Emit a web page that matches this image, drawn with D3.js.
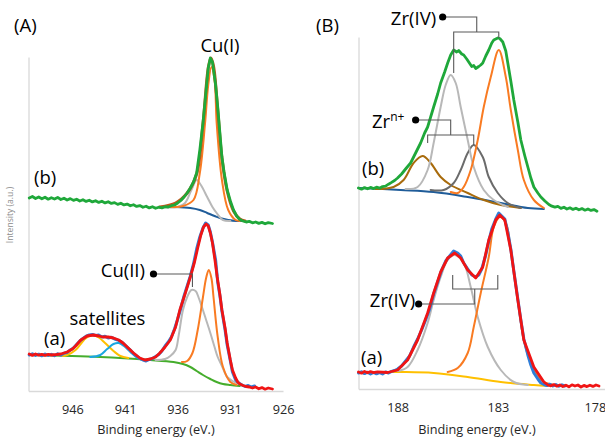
<!DOCTYPE html>
<html><head><meta charset="utf-8">
<script src="https://cdn.jsdelivr.net/npm/d3@7"></script>
<style>body{margin:0;background:#fff}svg{display:block}text{font-family:"Open Sans",sans-serif}</style>
</head><body>
<script>
// ---------- DATA (binding energy eV, intensity a.u.) ----------
const cuTicks = [946, 941, 936, 931, 926];
const zrTicks = [188, 183, 178];

// Cu 2p, spectrum (b)
const cuB_exp = [[950.1,1930],[949.8,1945],[949.5,1925],[949.2,1940],[948.9,1922],[948.6,1938],[948.3,1918],[948.0,1933],[947.7,1920],[947.4,1936],[947.1,1915],[946.8,1928],[946.5,1910],[946.2,1924],[945.9,1906],[945.6,1918],[945.3,1900],[945.0,1913],[944.7,1896],[944.4,1908],[944.1,1891],[943.8,1903],[943.5,1886],[943.2,1898],[942.9,1881],[942.6,1893],[942.3,1876],[942.0,1884],[941.7,1866],[941.4,1878],[941.1,1861],[940.8,1869],[940.5,1852],[940.2,1863],[939.9,1846],[939.6,1854],[939.3,1837],[939.0,1848],[938.7,1831],[938.4,1843],[938.1,1827],[937.8,1838],[937.5,1831],[937.2,1843],[936.9,1840],[936.6,1853],[936.3,1860],[936.0,1880],[935.7,1905],[935.4,1940],[935.1,1980],[934.8,2030],[934.5,2090],[934.2,2180],[933.9,2410],[933.6,2680],[933.3,3010],[933.1,3230],[932.9,3330],[932.7,3290],[932.4,3060],[932.2,2840],[932.0,2590],[931.8,2340],[931.6,2190],[931.3,2010],[931.0,1900],[930.7,1810],[930.4,1750],[930.1,1715],[929.8,1700],[929.5,1690],[929.2,1696],[928.9,1682],[928.6,1690],[928.3,1676],[928.0,1686],[927.7,1672],[927.4,1684],[927.0,1675]];
const cuB_fit = [[937.7,1840],[936.2,1880],[935.1,1980],[934.2,2170],[933.6,2670],[933.1,3230],[932.85,3330],[932.6,3250],[932.2,2810],[931.8,2330],[931.3,2000],[930.7,1800],[930.1,1720],[929.6,1700]];
const cuB_cu1 = [[936.7,1840],[935.5,1850],[934.5,1910],[933.9,2180],[933.4,2680],[933.1,3060],[932.8,3240],[932.5,3110],[932.3,2680],[931.8,2110],[931.2,1810],[930.5,1710],[930.1,1700]];
const cuB_cu2 = [[937.7,1840],[936.0,1840],[935.3,1880],[934.7,2010],[934.2,2110],[933.8,2060],[933.2,1940],[932.7,1840],[932.3,1780],[931.7,1710],[931.0,1700]];
const cuB_bg  = [[937.7,1840],[936.2,1840],[934.8,1830],[933.9,1810],[933.2,1780],[932.5,1750],[932.0,1730],[931.2,1710],[930.4,1700],[929.9,1700]];

// Cu 2p, spectrum (a)
const cuA_exp = [[950.1,360],[949.8,372],[949.5,356],[949.2,368],[948.9,352],[948.6,370],[948.3,356],[948.0,367],[947.7,353],[947.4,372],[947.1,358],[946.8,378],[946.5,385],[946.2,410],[945.9,430],[945.6,465],[945.3,500],[945.0,525],[944.7,548],[944.4,560],[944.1,565],[943.8,555],[943.5,560],[943.2,540],[942.9,548],[942.6,530],[942.3,538],[942.0,520],[941.7,510],[941.4,495],[941.1,470],[940.8,440],[940.5,410],[940.2,375],[939.9,350],[939.6,325],[939.3,310],[939.0,300],[938.7,315],[938.4,325],[938.1,345],[937.8,365],[937.5,400],[937.2,450],[936.9,490],[936.6,540],[936.3,620],[936.0,720],[935.7,830],[935.4,950],[935.1,1050],[934.8,1150],[934.5,1270],[934.2,1420],[933.9,1540],[933.6,1630],[933.35,1680],[933.1,1660],[932.9,1590],[932.7,1490],[932.4,1310],[932.2,1090],[932.0,960],[931.8,800],[931.5,610],[931.3,460],[931.0,300],[930.8,190],[930.5,110],[930.2,80],[929.9,60],[929.6,45],[929.3,55],[929.0,40],[928.7,50]];
const cuA_fit = [[950.1,370],[949.8,356],[949.5,370],[949.2,358],[948.9,367],[948.6,357],[948.3,366],[948.0,360],[947.5,365],[947.1,370],[946.5,390],[946.0,420],[945.7,450],[945.2,510],[944.6,550],[944.0,560],[943.5,550],[943.1,540],[942.6,540],[942.1,530],[941.6,510],[941.2,480],[940.7,430],[940.2,380],[939.6,330],[939.1,310],[938.6,320],[938.1,340],[937.7,380],[937.2,440],[936.7,510],[936.2,640],[935.8,810],[935.3,970],[934.8,1140],[934.4,1290],[934.1,1430],[933.8,1560],[933.55,1640],[933.3,1670],[933.1,1650],[932.9,1580],[932.7,1480],[932.45,1300],[932.25,1140],[932.0,970],[931.8,810],[931.5,630],[931.3,480],[931.0,310],[930.8,210],[930.5,130],[930.3,90],[930.1,70],[929.8,55],[929.5,45],[929.2,40],[928.9,30],[928.6,40],[928.3,22],[928.0,34],[927.7,18],[927.4,30],[927.0,20]];
const cuA_cu2 = [[938.1,310],[937.2,320],[936.7,350],[936.2,410],[935.9,560],[935.5,810],[935.1,940],[934.7,1010],[934.3,1000],[934.0,930],[933.7,840],[933.3,710],[932.9,580],[932.5,440],[932.2,340],[931.8,250],[931.3,140],[930.8,100],[930.4,80],[929.8,60]];
const cuA_cu1 = [[935.6,290],[935.1,300],[934.6,380],[934.1,610],[933.6,940],[933.3,1130],[933.05,1210],[932.8,1130],[932.6,940],[932.2,540],[931.7,240],[931.0,90],[930.4,60]];
const cuA_sat1 = [[947.1,350],[946.5,360],[945.7,410],[944.9,510],[944.5,545],[944.0,555],[943.5,535],[942.9,480],[942.1,400],[941.45,350],[940.7,330]];
const cuA_sat2 = [[944.3,340],[943.35,360],[942.7,420],[942.1,470],[941.6,480],[941.1,450],[940.5,390],[939.8,330],[939.1,310]];
const cuA_bg  = [[950.1,360],[943.35,340],[938.6,310],[936.4,290],[935.5,270],[934.8,240],[934.2,200],[933.6,160],[932.9,120],[932.3,90],[931.7,70],[931.0,60],[930.1,50]];

// Zr 3d, spectrum (b)
const zrB_exp = [[189.95,2010],[189.8,1998],[189.65,2014],[189.5,2002],[189.35,2016],[189.2,2004],[189.05,2018],[188.9,2008],[188.75,2024],[188.6,2028],[188.45,2048],[188.3,2066],[188.15,2085],[188.0,2110],[187.8,2150],[187.6,2200],[187.35,2260],[187.1,2360],[186.85,2460],[186.65,2560],[186.5,2620],[186.35,2720],[186.2,2820],[186.0,2950],[185.85,3060],[185.65,3170],[185.5,3260],[185.35,3340],[185.2,3390],[185.05,3370],[184.95,3385],[184.8,3350],[184.7,3340],[184.55,3300],[184.45,3270],[184.3,3225],[184.2,3235],[184.1,3205],[183.95,3225],[183.85,3240],[183.75,3260],[183.6,3330],[183.45,3390],[183.3,3460],[183.2,3490],[183.1,3500],[183.0,3510],[182.9,3505],[182.75,3470],[182.6,3380],[182.5,3260],[182.35,3080],[182.2,2890],[182.0,2670],[181.85,2490],[181.65,2330],[181.5,2220],[181.35,2110],[181.2,2020],[181.0,1960],[180.85,1920],[180.65,1880],[180.45,1845],[180.3,1828],[180.15,1818],[180.0,1826],[179.85,1806],[179.7,1818],[179.55,1800],[179.4,1812],[179.25,1796],[179.1,1808],[178.95,1792],[178.8,1804],[178.65,1788],[178.5,1800],[178.35,1786],[178.2,1794],[178.05,1778]];
const zrB_iv1 = [[187.6,2000],[187.0,2020],[186.5,2190],[186.2,2460],[185.85,2820],[185.6,3040],[185.35,3140],[185.1,3060],[184.85,2820],[184.5,2490],[184.2,2220],[183.7,1990],[183.2,1890],[182.5,1820]];
const zrB_iv2 = [[185.35,1970],[185.0,1960],[184.7,2020],[184.35,2190],[184.0,2490],[183.7,2820],[183.35,3120],[182.95,3390],[182.6,3120],[182.35,2790],[182.0,2390],[181.7,2090],[181.2,1890],[180.7,1810]];
const zrB_n1  = [[189.1,2000],[188.2,2020],[187.7,2090],[187.2,2260],[186.75,2330],[186.35,2260],[185.85,2120],[185.35,2040],[184.5,1960],[183.7,1890],[182.85,1840],[181.85,1810]];
const zrB_n2  = [[186.35,1990],[185.7,1990],[185.2,2060],[184.85,2190],[184.5,2360],[184.2,2440],[183.75,2320],[183.45,2120],[183.0,1960],[182.5,1860],[181.85,1810]];
const zrB_bg  = [[189.95,2010],[187.85,1990],[186.2,1970],[184.5,1920],[182.85,1860],[181.5,1810],[180.7,1800]];

// Zr 3d, spectrum (a)
const zrA_exp = [[189.95,160],[189.8,172],[189.65,154],[189.5,168],[189.35,150],[189.2,166],[189.05,152],[188.9,164],[188.75,150],[188.6,170],[188.45,160],[188.3,176],[188.15,185],[188.0,200],[187.8,230],[187.6,280],[187.4,330],[187.2,420],[187.0,500],[186.8,590],[186.6,690],[186.4,800],[186.2,950],[186.0,1070],[185.8,1190],[185.6,1280],[185.4,1330],[185.2,1380],[185.0,1360],[184.85,1330],[184.7,1260],[184.5,1200],[184.3,1140],[184.1,1120],[183.95,1140],[183.8,1200],[183.6,1340],[183.45,1480],[183.3,1600],[183.1,1700],[182.95,1760],[182.8,1730],[182.65,1700],[182.5,1570],[182.35,1400],[182.2,1180],[182.0,900],[181.85,690],[181.7,500],[181.5,340],[181.35,240],[181.2,160],[181.0,100],[180.85,60],[180.7,45],[180.55,34],[180.4,48],[180.25,30],[180.1,44],[179.95,28],[179.8,42],[179.65,30]];
const zrA_fit = [[189.95,170],[189.8,158],[189.65,176],[189.5,162],[189.35,174],[189.2,164],[189.0,172],[188.5,165],[188.0,190],[187.5,290],[187.0,490],[186.5,760],[186.2,960],[185.85,1170],[185.5,1310],[185.15,1360],[184.85,1310],[184.5,1190],[184.1,1110],[183.75,1220],[183.45,1490],[183.1,1690],[182.9,1740],[182.65,1690],[182.35,1390],[182.0,890],[181.7,490],[181.2,220],[180.7,70],[180.5,40],[180.35,32],[180.2,44],[180.05,28],[179.9,40],[179.75,24],[179.6,38],[179.45,22],[179.3,42],[179.15,30],[179.0,40],[178.85,20],[178.7,36],[178.55,24],[178.4,38],[178.25,26],[178.1,40],[177.95,30]];
const zrA_iv1 = [[188.0,180],[187.5,220],[187.0,390],[186.5,660],[186.2,890],[185.85,1120],[185.5,1290],[185.15,1340],[184.7,1260],[184.35,1020],[184.0,720],[183.5,420],[182.85,190],[182.2,70],[181.5,40]];
const zrA_iv2 = [[185.5,170],[185.0,210],[184.5,360],[184.2,620],[183.85,960],[183.45,1320],[183.2,1620],[182.9,1720],[182.6,1660],[182.35,1390],[182.0,890],[181.7,490],[181.35,260],[180.85,90],[180.2,40]];
const zrA_bg  = [[189.95,170],[187.85,170],[186.2,160],[184.5,120],[182.85,70],[181.2,40],[180.5,30]];

// annotation anchors [eV, intensity]
const cuIIPointer = [[938.3,1170],[934.6,1170],[934.6,1040]];
const zrTopPointer = [[185.75,3720],[184.05,3720],[184.05,3570]];
const zrTopBracket = [[185.2,3160],[185.2,3570],[182.95,3570],[182.95,3510]];
const zrNPointer = [[187.1,2690],[185.35,2690],[185.35,2540]];
const zrNBracket = [[186.5,2460],[186.5,2540],[184.2,2540],[184.2,2440]];
const zrBotPointer = [[186.95,850],[184.15,850],[184.15,1000]];
const zrBotBracket = [[185.25,1140],[185.25,1000],[183.0,1000],[183.0,1140]];

// ---------- CHART ----------
const W = 605, H = 437;
const svg = d3.select("body").append("svg").attr("width", W).attr("height", H);

const xL = d3.scaleLinear().domain([950.17, 926]).range([28.5, 283]);
const yL = d3.scaleLinear().domain([0, 3340]).range([391, 57]);
const xR = d3.scaleLinear().domain([189.95, 177.6]).range([358.5, 606]);
const yR = d3.scaleLinear().domain([0, 3520]).range([389, 37]);

function drawAxes(x, y, ticks, yBottom, yTop) {
  const gx = svg.append("g").attr("transform", `translate(0,${yBottom})`)
    .call(d3.axisBottom(x).tickValues(ticks).tickSize(0).tickPadding(14).tickFormat(d3.format("d")));
  gx.select(".domain").attr("stroke", "#d9d9d9").attr("stroke-width", 1.3);
  gx.selectAll("text").attr("font-size", 12.7).attr("fill", "#262626").style("font-family", '"Open Sans",sans-serif');
  const gy = svg.append("g").attr("transform", `translate(${x.range()[0]},0)`)
    .call(d3.axisLeft(d3.scaleLinear().range([yBottom, yTop])).tickValues([]).tickSizeOuter(0));
  gy.select(".domain").attr("stroke", "#d9d9d9").attr("stroke-width", 1.3);
  return gx;
}
drawAxes(xL, yL, cuTicks, 391, 57);
const gxR = drawAxes(xR, yR, zrTicks, 389, 37);
gxR.selectAll("text").filter(d => d === 178).attr("dx", -3);

function curve(x, y, data, color, width, rough) {
  const line = d3.line().x(d => x(d[0])).y(d => y(d[1]))
    .curve(rough ? d3.curveLinear : d3.curveCatmullRom.alpha(0.5));
  svg.append("path").datum(data).attr("d", line).attr("fill", "none")
    .attr("stroke", color).attr("stroke-width", width).attr("stroke-linejoin", "round").attr("stroke-linecap", "round");
}
function poly(x, y, data) {
  const line = d3.line().x(d => x(d[0])).y(d => y(d[1]));
  svg.append("path").datum(data).attr("d", line).attr("fill", "none")
    .attr("stroke", "#595959").attr("stroke-width", 1.1);
}
function dot(x, y, d) {
  svg.append("circle").attr("cx", x(d[0])).attr("cy", y(d[1])).attr("r", 3.6).attr("fill", "#000");
}

// Cu (b)
curve(xL, yL, cuB_bg, "#1f5c99", 2);
curve(xL, yL, cuB_cu2, "#b8b8b8", 2);
curve(xL, yL, cuB_cu1, "#f97b22", 2);
curve(xL, yL, cuB_fit, "#c0561a", 3);
curve(xL, yL, cuB_exp, "#1fa83a", 2.8, true);
// Cu (a)
curve(xL, yL, cuA_bg, "#45ad2c", 2);
curve(xL, yL, cuA_sat1, "#ffc000", 2);
curve(xL, yL, cuA_sat2, "#1aa7e0", 2);
curve(xL, yL, cuA_cu2, "#b8b8b8", 2);
curve(xL, yL, cuA_cu1, "#f97b22", 2);
curve(xL, yL, cuA_exp, "#2f7ed8", 3, true);
curve(xL, yL, cuA_fit, "#f01414", 2.8, true);

// Zr (b)
curve(xR, yR, zrB_bg, "#1f5c99", 2);
curve(xR, yR, zrB_n1, "#a86b0c", 2);
curve(xR, yR, zrB_n2, "#6b6b6b", 2);
curve(xR, yR, zrB_iv1, "#b8b8b8", 2);
curve(xR, yR, zrB_iv2, "#f97b22", 2);
curve(xR, yR, zrB_exp, "#1fa83a", 2.8, true);
// Zr (a)
curve(xR, yR, zrA_bg, "#ffc000", 2);
curve(xR, yR, zrA_iv1, "#b8b8b8", 2);
curve(xR, yR, zrA_iv2, "#f97b22", 2);
curve(xR, yR, zrA_exp, "#2f7ed8", 3, true);
curve(xR, yR, zrA_fit, "#f01414", 2.8, true);

// annotations
poly(xL, yL, cuIIPointer); dot(xL, yL, cuIIPointer[0]);
poly(xR, yR, zrTopPointer); poly(xR, yR, zrTopBracket); dot(xR, yR, zrTopPointer[0]);
poly(xR, yR, zrNPointer); poly(xR, yR, zrNBracket); dot(xR, yR, zrNPointer[0]);
poly(xR, yR, zrBotPointer); poly(xR, yR, zrBotBracket); dot(xR, yR, zrBotPointer[0]);

// text
function label(txt, x, y, size, anchor) {
  return svg.append("text").attr("x", x).attr("y", y).attr("font-size", size)
    .attr("text-anchor", anchor || "start").attr("fill", "#000").text(txt);
}
label("(A)", 14, 31.5, 18.5);
label("(B)", 316, 32, 18.5);
label("Cu(I)", 220, 52, 18.5, "middle");
label("(b)", 34, 183.5, 18.5);
label("Cu(II)", 145, 277, 18.5, "end");
label("satellites", 107.5, 325, 18.5, "middle");
label("(a)", 44, 345, 18.5);
label("Zr(IV)", 413.5, 24.5, 18.5, "middle");
label("(b)", 362, 175, 18.5);
label("(a)", 361, 364, 18.5);
label("Zr(IV)", 392.5, 307, 18.5, "middle");
const zn = label("Zr", 372, 128, 18.5);
zn.append("tspan").attr("dy", -7).attr("font-size", 12).text("n+");

svg.append("text").attr("x", 156).attr("y", 434).attr("font-size", 12.7).attr("text-anchor", "middle").attr("fill", "#262626").text("Binding energy (eV.)");
svg.append("text").attr("x", 477).attr("y", 434).attr("font-size", 12.7).attr("text-anchor", "middle").attr("fill", "#262626").text("Binding energy (eV.)");
svg.append("text").attr("transform", "translate(13,215) rotate(-90)").attr("font-size", 8.6).attr("text-anchor", "middle").attr("fill", "#8c8c8c").text("Intensity (a.u.)");
</script>
</body></html>
